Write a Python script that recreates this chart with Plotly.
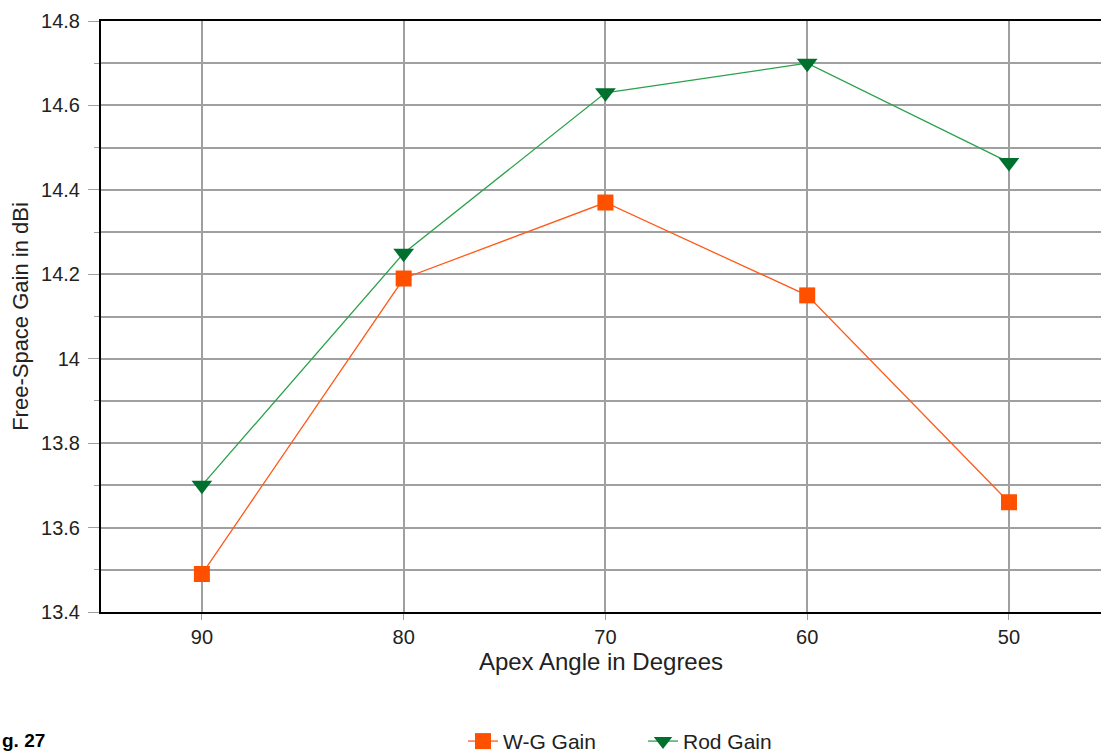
import plotly.graph_objects as go

angles = ["90", "80", "70", "60", "50"]
wg_gain = [13.49, 14.19, 14.37, 14.15, 13.66]
rod_gain = [13.70, 14.25, 14.63, 14.70, 14.465]

fig = go.Figure()
fig.add_trace(go.Scatter(
    x=angles, y=wg_gain, name="W-G Gain", mode="lines+markers",
    line=dict(color="#FF5A1A", width=1.3),
    marker=dict(symbol="square", size=16, color="#FF5000"),
))
fig.add_trace(go.Scatter(
    x=angles, y=rod_gain, name="Rod Gain", mode="lines+markers",
    line=dict(color="#2AA24A", width=1.3),
    marker=dict(symbol="triangle-down", size=18, color="#00702E"),
))

font = "Liberation Sans, Arial, sans-serif"
grid = "#A0A0A0"
fig.update_layout(
    width=1101, height=754,
    margin=dict(l=101, r=0, t=21, b=142, autoexpand=False),
    paper_bgcolor="white", plot_bgcolor="white",
    font=dict(family=font, size=20, color="#222222"),
    showlegend=True,
    legend=dict(orientation="h", x=0.362, xanchor="left", y=-0.219, yanchor="middle",
                font=dict(size=21), traceorder="normal", bgcolor="rgba(0,0,0,0)",
                entrywidth=135, entrywidthmode="pixels"),
    xaxis=dict(
        type="category", range=[-0.5, 4.456], automargin=False,
        showgrid=True, gridcolor=grid, gridwidth=1.5,
        showline=True, linecolor="black", linewidth=2, mirror=True,
        ticks="outside", ticklen=6, tickcolor=grid, ticklabelstandoff=0,
        tickfont=dict(size=20),
        title=dict(text="Apex Angle in Degrees", font=dict(size=24), standoff=4),
    ),
    yaxis=dict(
        range=[13.4, 14.8], automargin=False,
        tickvals=[13.4, 13.6, 13.8, 14.0, 14.2, 14.4, 14.6, 14.8],
        ticktext=["13.4", "13.6", "13.8", "14", "14.2", "14.4", "14.6", "14.8"],
        showgrid=True, gridcolor=grid, gridwidth=1.5,
        showline=True, linecolor="black", linewidth=2,
        ticks="outside", ticklen=11, tickcolor=grid, ticklabelstandoff=4,
        minor=dict(dtick=0.1, tick0=13.4, showgrid=True, gridcolor=grid, gridwidth=1.5,
                   ticks="outside", ticklen=5, tickcolor=grid),
        tickfont=dict(size=20),
        title=dict(text="Free-Space Gain in dBi", font=dict(size=22), standoff=6),
        zeroline=False,
    ),
)
fig.add_annotation(text="<b>g. 27</b>", xref="paper", yref="paper",
                   x=-0.101, xanchor="left", y=-0.2385, yanchor="bottom",
                   showarrow=False, font=dict(size=19, color="black", family=font))

fig.write_html("out.html", config={"displayModeBar": False},
               post_script="document.body.style.margin='0';document.body.style.overflow='hidden';")
